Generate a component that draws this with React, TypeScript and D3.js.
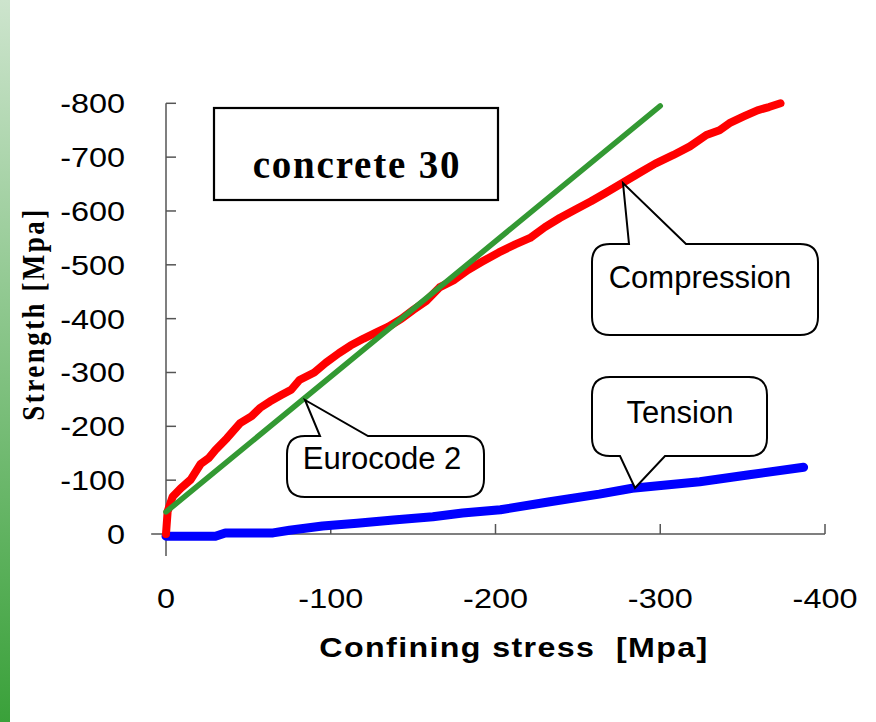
import React from "react";
import * as d3 from "d3";

// ---- data (MPa) ----
const xTicks = [0, -100, -200, -300, -400];
const yTicks = [0, -100, -200, -300, -400, -500, -600, -700, -800];

const compressionX = [0, -1, -4, -9, -15, -21, -26, -30, -37, -45, -52, -57, -63, -70, -76, -81, -90, -97, -105, -112, -120, -128, -135, -143, -150, -158, -166, -175, -183, -192, -202, -212, -221, -230, -239, -248, -258, -267, -277, -288, -297, -308, -318, -328, -336, -342, -351, -359, -366, -373];
const compressionY = [0, -42, -69, -85, -101, -130, -141, -156, -178, -206, -219, -234, -246, -258, -268, -286, -300, -318, -336, -350, -363, -375, -385, -400, -416, -433, -458, -472, -490, -506, -523, -538, -550, -570, -587, -602, -618, -634, -652, -672, -688, -704, -720, -741, -750, -763, -776, -787, -793, -800];

const eurocodeX = [0, -300];
const eurocodeY = [-41, -795];

const tensionX = [0, -30, -36, -65, -75, -95, -116, -138, -162, -180, -203, -233, -263, -283, -324, -354, -387];
const tensionY = [4, 4, -2, -2, -7, -15, -20, -26, -32, -39, -45, -60, -74, -85, -97, -110, -124];

const W = 876;
const H = 722;

const xScale = d3.scaleLinear().domain([0, -400]).range([166, 825]);
const yScale = d3.scaleLinear().domain([0, -800]).range([534, 103.3]);

const SANS = "'Liberation Sans', Arial, sans-serif";
const SERIF = "'Liberation Serif', 'Times New Roman', serif";

function zip(xs: number[], ys: number[]): [number, number][] {
  return xs.map((x, i) => [x, ys[i]]);
}

const lineGen = d3
  .line<[number, number]>()
  .x((d) => xScale(d[0]))
  .y((d) => yScale(d[1]));

function callout(
  x0: number,
  y0: number,
  x1: number,
  y1: number,
  r: number,
  side: "top" | "bottom",
  b0: number,
  b1: number,
  tx: number,
  ty: number
) {
  const p = d3.path();
  p.moveTo(x0 + r, y0);
  if (side === "top") {
    p.lineTo(b0, y0);
    p.lineTo(tx, ty);
    p.lineTo(b1, y0);
  }
  p.lineTo(x1 - r, y0);
  p.quadraticCurveTo(x1, y0, x1, y0 + r);
  p.lineTo(x1, y1 - r);
  p.quadraticCurveTo(x1, y1, x1 - r, y1);
  if (side === "bottom") {
    p.lineTo(b1, y1);
    p.lineTo(tx, ty);
    p.lineTo(b0, y1);
  }
  p.lineTo(x0 + r, y1);
  p.quadraticCurveTo(x0, y1, x0, y1 - r);
  p.lineTo(x0, y0 + r);
  p.quadraticCurveTo(x0, y0, x0 + r, y0);
  p.closePath();
  return p.toString();
}

export default function App() {
  const axisColor = "#555";
  return (
    <svg
      width={W}
      height={H}
      style={{ position: "absolute", left: 0, top: 0, background: "#fff" }}
    >
      <defs>
        <linearGradient id="strip" x1="0" y1="0" x2="0" y2="1">
          <stop offset="0%" stopColor="#cde4cd" />
          <stop offset="100%" stopColor="#3aa13a" />
        </linearGradient>
      </defs>
      <rect x={0} y={0} width={10} height={H} fill="url(#strip)" />

      {/* axes */}
      <line x1={xScale(0)} x2={xScale(0)} y1={yScale(-800)} y2={yScale(41)} stroke={axisColor} strokeWidth={1.5} />
      <line x1={xScale(9)} x2={xScale(-400)} y1={yScale(0)} y2={yScale(0)} stroke={axisColor} strokeWidth={1.5} />
      {yTicks.map((t) => (
        <g key={"yt" + t}>
          <line x1={xScale(0)} x2={xScale(0) + 10} y1={yScale(t)} y2={yScale(t)} stroke={axisColor} strokeWidth={1.5} />
          <text
            transform={`translate(125,${yScale(t) + 10}) scale(1.2,1)`}
            textAnchor="end"
            fontFamily={SANS}
            fontSize={27}
            fill="#000"
          >
            {t}
          </text>
        </g>
      ))}
      {xTicks.map((t) => (
        <g key={"xt" + t}>
          {t !== 0 && (
            <line x1={xScale(t)} x2={xScale(t)} y1={yScale(0)} y2={yScale(0) - 10} stroke={axisColor} strokeWidth={1.5} />
          )}
          <text
            transform={`translate(${xScale(t)},608) scale(1.2,1)`}
            textAnchor="middle"
            fontFamily={SANS}
            fontSize={27}
            fill="#000"
          >
            {t}
          </text>
        </g>
      ))}

      {/* axis titles */}
      <text
        transform="translate(514,657) scale(1.15,1)"
        textAnchor="middle"
        fontFamily={SANS}
        fontWeight="bold"
        fontSize={28}
        letterSpacing={1.2}
        fill="#000"
        style={{ whiteSpace: "pre" }}
        xmlSpace="preserve"
      >
        {"Confining stress  [Mpa]"}
      </text>
      <text
        transform="translate(44,314) scale(1.15,1) rotate(-90)"
        textAnchor="middle"
        fontFamily={SERIF}
        fontWeight="bold"
        fontSize={27}
        letterSpacing={2.5}
        fill="#000"
      >
        Strength [Mpa]
      </text>

      {/* series */}
      <path d={lineGen(zip(tensionX, tensionY)) || ""} fill="none" stroke="#0000ff" strokeWidth={9} strokeLinejoin="round" strokeLinecap="round" />
      <path d={lineGen(zip(compressionX, compressionY)) || ""} fill="none" stroke="#ff0000" strokeWidth={8} strokeLinejoin="round" strokeLinecap="round" />
      <path d={lineGen(zip(eurocodeX, eurocodeY)) || ""} fill="none" stroke="#339933" strokeWidth={5.5} strokeLinejoin="round" strokeLinecap="round" />

      {/* title box */}
      <rect x={214} y={108} width={284} height={92} fill="#fff" stroke="#000" strokeWidth={2.2} />
      <text x={357} y={178} textAnchor="middle" fontFamily={SERIF} fontWeight="bold" fontSize={39} letterSpacing={1.8} fill="#000">
        concrete 30
      </text>

      {/* callouts */}
      <path d={callout(592, 244, 818, 335, 18, "top", 629, 686, 623, 183)} fill="#fff" stroke="#000" strokeWidth={2} />
      <text x={700} y={288} textAnchor="middle" fontFamily={SANS} fontSize={31} fill="#000">
        Compression
      </text>

      <path d={callout(287, 436, 484, 497, 18, "top", 320, 368, 305, 400)} fill="#fff" stroke="#000" strokeWidth={2} />
      <text x={382} y={469} textAnchor="middle" fontFamily={SANS} fontSize={31} fill="#000">
        Eurocode 2
      </text>

      <path d={callout(592, 377, 767, 456, 18, "bottom", 620, 665, 635, 488)} fill="#fff" stroke="#000" strokeWidth={2} />
      <text x={680} y={423} textAnchor="middle" fontFamily={SANS} fontSize={31} fill="#000">
        Tension
      </text>
    </svg>
  );
}
